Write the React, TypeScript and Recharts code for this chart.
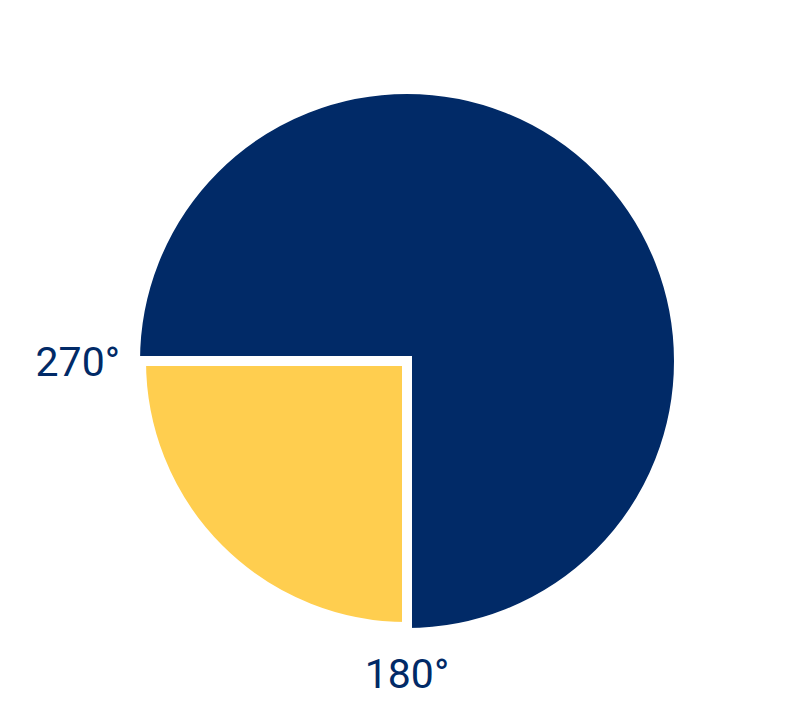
import { Cell, Pie, PieChart } from "recharts";

const categories = ["South-west", "Rest"];
const values = [90, 270];
const colors = ["#ffce4f", "#012a67"];
const angleLabels = ["270°", "180°"];

const data = categories.map((name, i) => ({ name, value: values[i] }));

const RADIAN = Math.PI / 180;
const TEXT_COLOR = "#012a67";

function renderAngleLabels(props: any) {
  const { cx, cy, startAngle, endAngle, index } = props;
  if (index !== 0) return null;
  const p1 = {
    x: cx + 287 * Math.cos(-startAngle * RADIAN),
    y: cy + 287 * Math.sin(-startAngle * RADIAN) + 1,
  };
  const p2 = {
    x: cx + 313 * Math.cos(-endAngle * RADIAN),
    y: cy + 313 * Math.sin(-endAngle * RADIAN),
  };
  const style = { fontFamily: "Roboto, sans-serif", fontSize: 41, fill: TEXT_COLOR };
  return (
    <g>
      <text x={p1.x} y={p1.y} textAnchor="end" dominantBaseline="central" style={style}>
        {angleLabels[0]}
      </text>
      <text x={p2.x} y={p2.y} textAnchor="middle" dominantBaseline="central" style={style}>
        {angleLabels[1]}
      </text>
    </g>
  );
}

export default function App() {
  // chart margin is 5px, body margin 8px
  const cx = 394;
  const cy = 348;
  return (
    <div style={{ width: 804, height: 716 }}>
      <PieChart width={804} height={716}>
        <Pie
          data={data}
          dataKey="value"
          cx={cx}
          cy={cy}
          outerRadius={272}
          startAngle={180}
          endAngle={540}
          stroke="#ffffff"
          strokeWidth={10}
          isAnimationActive={false}
        >
          {data.map((d, i) => (
            <Cell
              key={d.name}
              fill={i === 1 ? colors[i] : "none"}
              stroke={i === 1 ? "#ffffff" : "none"}
            />
          ))}
        </Pie>
        <Pie
          data={data}
          dataKey="value"
          cx={cx}
          cy={cy}
          outerRadius={266}
          startAngle={180}
          endAngle={540}
          stroke="#ffffff"
          strokeWidth={10}
          label={renderAngleLabels}
          labelLine={false}
          isAnimationActive={false}
        >
          {data.map((d, i) => (
            <Cell
              key={d.name}
              fill={i === 0 ? colors[i] : "none"}
              stroke={i === 0 ? "#ffffff" : "none"}
            />
          ))}
        </Pie>
      </PieChart>
    </div>
  );
}
